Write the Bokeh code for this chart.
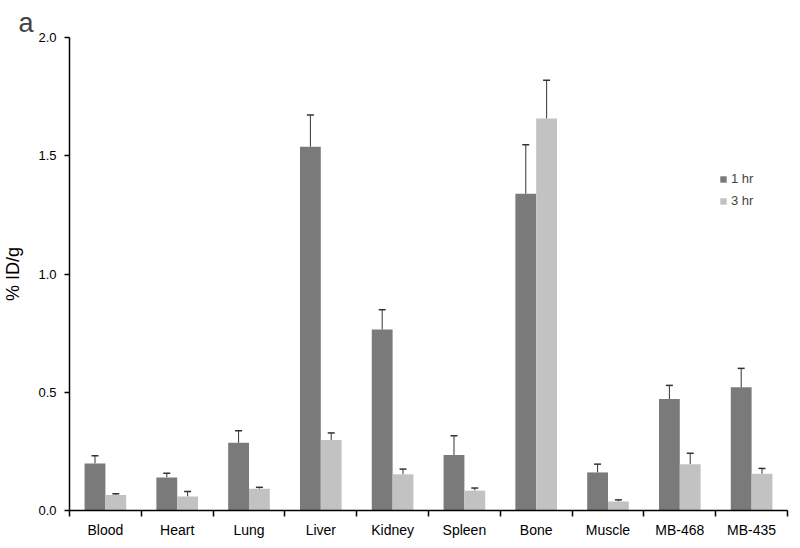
import numpy as np
from bokeh.plotting import figure
from bokeh.models import (ColumnDataSource, FixedTicker, Whisker, TeeHead, Range1d,
                          Legend, LegendItem, NumeralTickFormatter)
from bokeh.transform import dodge
from bokeh.embed import file_html
from bokeh.resources import INLINE

categories = ["Blood", "Heart", "Lung", "Liver", "Kidney", "Spleen", "Bone", "Muscle", "MB-468", "MB-435"]
hr1 = [0.199, 0.140, 0.286, 1.538, 0.765, 0.235, 1.339, 0.161, 0.471, 0.521]
hr1_err = [0.032, 0.017, 0.051, 0.134, 0.084, 0.081, 0.207, 0.035, 0.058, 0.080]
hr3 = [0.066, 0.059, 0.092, 0.298, 0.153, 0.084, 1.657, 0.038, 0.196, 0.155]
hr3_err = [0.005, 0.021, 0.006, 0.030, 0.022, 0.011, 0.162, 0.007, 0.046, 0.023]
y_ticks = [0.0, 0.5, 1.0, 1.5, 2.0]

FONT = "Liberation Sans"
DARK = "#7a7a7a"
LIGHT = "#c2c2c2"

n = len(categories)
centers = [i + 0.5 for i in range(n)]
src = ColumnDataSource(dict(
    x=centers,
    hr1=hr1, hr1_top=[v + e for v, e in zip(hr1, hr1_err)],
    hr3=hr3, hr3_top=[v + e for v, e in zip(hr3, hr3_err)],
))

p = figure(width=792, height=540, output_backend="svg", toolbar_location=None,
           x_range=Range1d(0, n), y_range=Range1d(0, 2.0),
           min_border_left=59, min_border_right=5, min_border_top=37, min_border_bottom=0)
p.title.text = "a"
p.title.text_font = FONT
p.title.text_font_size = "27px"
p.title.text_font_style = "normal"
p.title.align = "left"
p.title.offset = -51
p.title.standoff = 0

bw = 0.29
r1 = p.vbar(x=dodge("x", -bw / 2, range=p.x_range), top="hr1", width=bw, source=src,
            fill_color=DARK, line_color=None)
r3 = p.vbar(x=dodge("x", bw / 2, range=p.x_range), top="hr3", width=bw, source=src,
            fill_color=LIGHT, line_color=None)

for xo, base, top in [(-bw / 2, "hr1", "hr1_top"), (bw / 2, "hr3", "hr3_top")]:
    w = Whisker(base=dodge("x", xo, range=p.x_range), lower=base, upper=top, source=src,
                line_color="#333333", line_width=1,
                upper_head=TeeHead(size=7, line_color="#333333", line_width=1.5),
                lower_head=None)
    p.add_layout(w)

p.grid.visible = False
p.outline_line_color = None

# x axis: labels at centers, ticks at boundaries
p.xaxis.ticker = FixedTicker(ticks=centers, minor_ticks=list(range(n + 1)))
p.xaxis.major_label_overrides = {c: lab for c, lab in zip(centers, categories)}
p.xaxis.major_tick_out = 0
p.xaxis.major_tick_in = 0
p.xaxis.minor_tick_out = 6
p.xaxis.minor_tick_in = 0
p.xaxis.minor_tick_line_color = "black"
p.xaxis.minor_tick_line_width = 1.5
p.xaxis.axis_line_width = 1.5
p.xaxis.axis_line_color = "black"
p.xaxis.major_label_standoff = 5
p.xaxis.major_label_text_font = FONT
p.xaxis.major_label_text_font_size = "14px"
p.xaxis.major_label_text_color = "black"
p.xaxis.axis_label_standoff = 0

p.yaxis.ticker = FixedTicker(ticks=y_ticks, minor_ticks=[])
p.yaxis.formatter = NumeralTickFormatter(format="0.0")
p.yaxis.major_tick_out = 5
p.yaxis.major_tick_in = 0
p.yaxis.major_tick_line_width = 1.5
p.yaxis.axis_line_width = 1.5
p.yaxis.axis_line_color = "black"
p.yaxis.major_label_text_font = FONT
p.yaxis.major_label_text_font_size = "13px"
p.yaxis.major_label_text_color = "black"
p.yaxis.major_label_standoff = 8
p.yaxis.axis_label = "% ID/g"
p.yaxis.axis_label_text_font = FONT
p.yaxis.axis_label_text_font_size = "18px"
p.yaxis.axis_label_text_font_style = "normal"
p.yaxis.axis_label_text_color = "black"
p.yaxis.axis_label_standoff = 12

legend = Legend(items=[LegendItem(label="1 hr", renderers=[r1]),
                       LegendItem(label="3 hr", renderers=[r3])],
                location=(650, 302), glyph_width=8, glyph_height=8,
                label_text_font=FONT, label_text_font_size="13px",
                spacing=7, padding=0, border_line_color=None,
                background_fill_alpha=0, label_standoff=4)
p.add_layout(legend)

open("out.html", "w").write(file_html(p, INLINE))
